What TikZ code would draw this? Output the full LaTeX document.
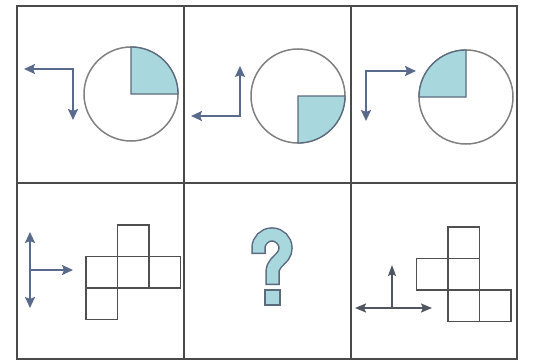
\documentclass[tikz,border=0pt]{standalone}
\usetikzlibrary{arrows.meta}
\definecolor{slate}{HTML}{5A6A8C}
\definecolor{darkarr}{HTML}{50555F}
\definecolor{aqua}{HTML}{A8D8DE}
\definecolor{gridc}{HTML}{4A4A4A}
\definecolor{circc}{HTML}{808080}
\definecolor{quadc}{HTML}{5C6A7E}
\definecolor{sqc}{HTML}{505050}
\begin{document}
\begin{tikzpicture}[x=1pt,y=-1pt,
  gridline/.style={draw=gridc,line width=1.3},
  circline/.style={draw=circc,line width=1.5},
  quad/.style={fill=aqua,draw=quadc,line width=1.3},
  arr/.style={draw=slate,line width=2,line join=miter,
    arrows={Stealth[length=11,width=10,inset=2]-Stealth[length=11,width=10,inset=2]}},
  arrone/.style={draw=slate,line width=2,line join=miter,
    -{Stealth[length=11,width=10,inset=2]}},
  darr/.style={draw=darkarr,line width=1.6,
    arrows={Stealth[length=11,width=9,inset=2]-Stealth[length=11,width=9,inset=2]}},
  darrone/.style={draw=darkarr,line width=1.6,-{Stealth[length=11,width=8,inset=2]}},
  sqline/.style={draw=sqc,line width=1.3},
  qout/.style={draw=quadc,line width=14.5},
  qin/.style={draw=aqua,line width=11.5}]
\useasboundingbox (0,0) rectangle (537,361);
\fill[white] (0,0) rectangle (537,361);

% grid
\draw[gridline] (17,6) rectangle (517,359);
\draw[gridline] (184,6) -- (184,359);
\draw[gridline] (351,6) -- (351,359);
\draw[gridline] (17,183) -- (517,183);

% cell 1
\draw[circline] (131,94) circle[radius=47];
\draw[quad] (131,94) -- (178,94) arc[start angle=0,end angle=-90,radius=47] -- cycle;
\coordinate (c1) at (73,69);
\coordinate (c1l) at (24,69);
\coordinate (c1d) at (73,120);
\draw[arr] (c1l) -- (c1) -- (c1d);

% cell 2
\draw[circline] (298,96) circle[radius=47];
\draw[quad] (298,96) -- (345,96) arc[start angle=0,end angle=90,radius=47] -- cycle;
\coordinate (c2) at (240,116);
\coordinate (c2u) at (240,66);
\coordinate (c2l) at (191,116);
\draw[arr] (c2u) -- (c2) -- (c2l);

% cell 3
\draw[circline] (466,97) circle[radius=47];
\draw[quad] (466,97) -- (419,97) arc[start angle=180,end angle=270,radius=47] -- cycle;
\coordinate (c3) at (366,71);
\coordinate (c3r) at (416,71);
\coordinate (c3d) at (366,121);
\draw[arr] (c3r) -- (c3) -- (c3d);

% cell 4
\coordinate (c4t) at (30,232);
\coordinate (c4b) at (30,308);
\coordinate (c4m) at (30,270);
\coordinate (c4r) at (73,270);
\draw[arr] (c4t) -- (c4b);
\draw[arrone] (c4m) -- (c4r);
\draw[sqline] (117.5,225) rectangle (149,256.5);
\draw[sqline] (86,256.5) rectangle (117.5,288);
\draw[sqline] (117.5,256.5) rectangle (149,288);
\draw[sqline] (149,256.5) rectangle (180.5,288);
\draw[sqline] (86,288) rectangle (117.5,319.5);

% cell 5: question mark
\draw[qout] (258.5,254) -- (258.5,248) arc[start angle=180,end angle=395,radius=13.5]
  .. controls (278,262) and (272.5,264) .. (272.5,273) -- (272.5,285);
\draw[qin,shorten <=1.5,shorten >=1.5] (258.5,254) -- (258.5,248) arc[start angle=180,end angle=395,radius=13.5]
  .. controls (278,262) and (272.5,264) .. (272.5,273) -- (272.5,285);
\draw[fill=aqua,draw=quadc,line width=1.5] (265.2,290) rectangle (279.8,305);

% cell 6
\coordinate (c6l) at (355,308);
\coordinate (c6r) at (432,308);
\coordinate (c6b) at (392,308);
\coordinate (c6u) at (392,265);
\draw[darr] (c6l) -- (c6r);
\draw[darrone] (c6b) -- (c6u);
\draw[sqline] (448,227) rectangle (479.5,258.5);
\draw[sqline] (416.5,258.5) rectangle (448,290);
\draw[sqline] (448,258.5) rectangle (479.5,290);
\draw[sqline] (448,290) rectangle (479.5,321.5);
\draw[sqline] (479.5,290) rectangle (511,321.5);
\end{tikzpicture}
\end{document}
